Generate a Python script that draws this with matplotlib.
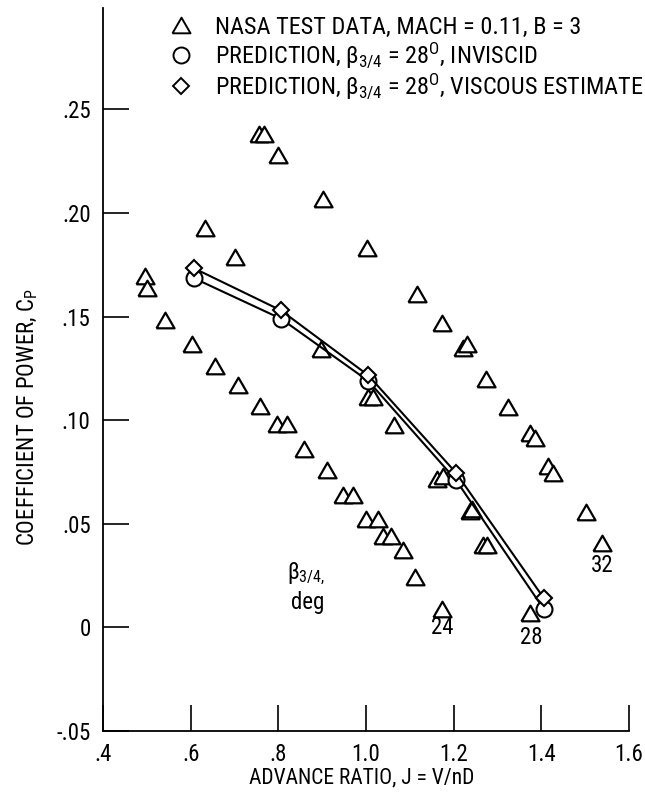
import matplotlib
matplotlib.use('Agg')
import matplotlib.pyplot as plt
from matplotlib import font_manager
from matplotlib.lines import Line2D

# test data, grouped by blade angle
j_24 = [0.496, 0.500, 0.541, 0.604, 0.656, 0.709, 0.759, 0.796, 0.820, 0.859,
        0.912, 0.948, 0.971, 1.000, 1.028, 1.039, 1.056, 1.085, 1.112, 1.173]
cp_24 = [0.1697, 0.1636, 0.1485, 0.137, 0.126, 0.117, 0.107, 0.098, 0.098, 0.0863,
         0.0758, 0.0638, 0.0638, 0.0522, 0.0522, 0.0441, 0.0441, 0.0373, 0.0245, 0.009]

j_28 = [0.633, 0.700, 0.897, 1.005, 1.017, 1.065, 1.161, 1.176, 1.237, 1.242,
        1.268, 1.275, 1.374]
cp_28 = [0.1926, 0.1786, 0.1346, 0.111, 0.111, 0.0976, 0.0715, 0.073, 0.0562, 0.057,
         0.040, 0.040, 0.0071]

j_32 = [0.757, 0.768, 0.799, 0.902, 1.002, 1.116, 1.173, 1.222, 1.231, 1.273,
        1.325, 1.374, 1.386, 1.416, 1.426, 1.502, 1.539]
cp_32 = [0.238, 0.238, 0.228, 0.207, 0.183, 0.161, 0.147, 0.135, 0.137, 0.120,
         0.1064, 0.094, 0.0912, 0.078, 0.0744, 0.0557, 0.0409]

# predictions for beta 3/4 = 28 deg
j_pred = [0.608, 0.806, 1.005, 1.205, 1.405]
cp_inviscid = [0.1685, 0.149, 0.119, 0.0712, 0.009]
cp_viscous = [0.1733, 0.153, 0.1217, 0.0747, 0.0143]

# curve labels (angle, J, Cp)
angle_labels = ['24', '28', '32']
angle_j = [1.175, 1.378, 1.539]
angle_cp = [0.0, -0.005, 0.030]

xticks = [0.4, 0.6, 0.8, 1.0, 1.2, 1.4, 1.6]
xticklabels = ['.4', '.6', '.8', '1.0', '1.2', '1.4', '1.6']
yticks = [-0.05, 0.0, 0.05, 0.10, 0.15, 0.20, 0.25]
yticklabels = ['-.05', '0', '.05', '.10', '.15', '.20', '.25']

legend_labels = [
    'NASA TEST DATA, MACH = 0.11, B = 3',
    r'PREDICTION, $\beta_{3/4}$ = 28$^{\mathrm{O}}$, INVISCID',
    r'PREDICTION, $\beta_{3/4}$ = 28$^{\mathrm{O}}$, VISCOUS ESTIMATE',
]

# narrow sans if there is one, else Roboto
installed = {f.name for f in font_manager.fontManager.ttflist}
font = 'Roboto'
for cand in ['Liberation Sans Narrow', 'Roboto Condensed']:
    if cand in installed:
        font = cand
        break
plt.rcParams['font.family'] = [font, 'DejaVu Sans']
plt.rcParams['mathtext.fontset'] = 'custom'
plt.rcParams['mathtext.rm'] = font
plt.rcParams['mathtext.it'] = font
fs = 16.5

# equilateral open triangle, centred on the point
tri = [(-1, -0.866), (1, -0.866), (0, 0.866), (-1, -0.866)]

fig = plt.figure(figsize=(6.45, 7.96), dpi=100)
ax = fig.add_axes([0.1597, 0.0817, 0.8155, 0.9083])

mk = dict(marker=tri, ms=13, mfc='white', mec='black', mew=1.6, ls='none')
ax.plot(j_24, cp_24, **mk, zorder=3)
ax.plot(j_28, cp_28, **mk, zorder=3)
ax.plot(j_32, cp_32, **mk, zorder=3)

ax.plot(j_pred, cp_inviscid, color='black', lw=1.5, marker='o', ms=11.5,
        mfc='white', mec='black', mew=1.5, zorder=4)
ax.plot(j_pred, cp_viscous, color='black', lw=1.5, marker='D', ms=8,
        mfc='white', mec='black', mew=1.5, zorder=4)

for lab, jx, cy in zip(angle_labels, angle_j, angle_cp):
    ax.text(jx, cy, lab, ha='center', va='center', fontsize=fs)
ax.text(0.862, 0.026, r'$\beta_{3/4,}$', ha='center', va='center', fontsize=fs)
ax.text(0.868, 0.012, 'deg', ha='center', va='center', fontsize=fs)

ax.set_xlim(0.4, 1.6)
ax.set_ylim(-0.05, 0.299)
ax.set_xticks(xticks)
ax.set_xticklabels(xticklabels)
ax.set_yticks(yticks)
ax.set_yticklabels(yticklabels)
ax.tick_params(direction='in', length=19, width=1.2, labelsize=fs, pad=9)
for s in ['top', 'right']:
    ax.spines[s].set_visible(False)
for s in ['left', 'bottom']:
    ax.spines[s].set_linewidth(1.3)

fig.text(0.561, 0.0226, 'ADVANCE RATIO, J = V/nD', ha='center', va='center', fontsize=15.5)
fig.text(0.043, 0.476, r'COEFFICIENT OF POWER, C$_{\mathrm{P}}$', ha='center', va='center',
         rotation=90, fontsize=fs)

handles = [
    Line2D([], [], marker=tri, ms=13, mfc='white', mec='black', mew=1.4, ls='none'),
    Line2D([], [], marker='o', ms=11.5, mfc='white', mec='black', mew=1.4, ls='none'),
    Line2D([], [], marker='D', ms=8, mfc='white', mec='black', mew=1.4, ls='none'),
]
ax.legend(handles, legend_labels, loc='upper left', bbox_to_anchor=(170 / 645, 1 - 16 / 796),
          bbox_transform=fig.transFigure, frameon=False, borderpad=0, borderaxespad=0,
          handlelength=0.9, handletextpad=0.95, labelspacing=0.05, fontsize=17.5)

fig.savefig('out.png', dpi=100)
